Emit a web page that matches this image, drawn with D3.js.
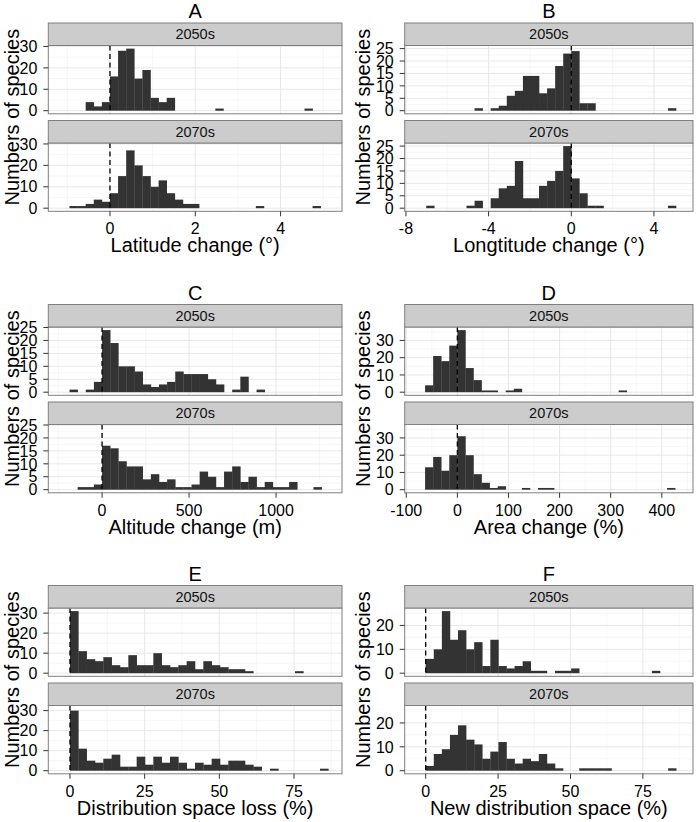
<!DOCTYPE html>
<html><head><meta charset="utf-8">
<script src="https://cdn.jsdelivr.net/npm/d3@7"></script>
<style>
body{margin:0;background:#fff}
svg{display:block}
text{font-family:"Liberation Sans",Arial,Helvetica,sans-serif}
</style>
</head><body>
<svg id="chart" width="700" height="822"></svg>
<script>
// ---------------- DATA ----------------
const facetLabels = ["2050s", "2070s"];
const panelLetters = ["A", "B", "C", "D", "E", "F"];
const xTitles = ["Latitude change (°)", "Longtitude change (°)", "Altitude change (m)",
                 "Area change (%)", "Distribution space loss (%)", "New distribution space (%)"];
const yTitle = "Numbers of species";

// histogram bin widths (bins are [k*w, (k+1)*w])
const binWidths = [0.19, 0.39, 46.74, 15.78, 2.79, 2.79];

// A: latitude change
const latStart = [-3, -5];
const lat2050 = [4,2,4,16,28,29,15,19,6,4,6,0,0,0,0,0,1,0,0,0,0,0,0,0,0,0,0,1];
const lat2070 = [1,1,2,4,3,7,15,27,20,15,10,13,7,4,2,2,0,0,0,0,0,0,0,1,0,0,0,0,0,0,1];
// B: longitude change
const lonStart = [-12, -18];
const lon2050 = [1,0,1,2,6,8,14,14,7,9,18,23,24,3,3,0,0,0,0,0,0,0,0,0,1];
const lon2070 = [1,0,0,0,0,1,3,0,4,8,9,19,4,4,9,11,15,25,12,6,1,1,0,0,0,0,0,0,0,0,1];
// C: altitude change
const altStart = [-4, -3];
const alt2050 = [1,0,1,4,24,19,10,10,8,3,2,3,4,8,7,7,7,5,3,0,1,6,0,1];
const alt2070 = [1,1,2,17,16,11,9,9,4,6,3,4,1,1,2,7,5,1,7,9,3,5,1,3,1,1,3,0,0,1];
// D: area change
const areaStart = [-4, -4];
const area2050 = [4,21,18,27,36,14,7,1,1,0,1,2,0,0,0,0,0,0,0,0,0,0,0,0,1];
const area2070 = [13,19,11,20,31,20,9,4,1,2,0,0,1,0,1,1,0,0,0,0,0,0,0,0,0,0,0,0,0,0,1];
// E: distribution space loss
const lossStart = [0, 0];
const loss2050 = [31,11,7,6,8,4,3,9,4,4,10,4,3,4,6,2,6,4,3,2,2,1,0,0,0,0,0,1];
const loss2070 = [30,11,5,4,6,8,2,2,7,3,7,4,7,4,1,4,3,6,3,5,5,3,2,0,1,0,0,0,0,0,1];
// F: new distribution space
const newStart = [0, 0];
const new2050 = [6,10,26,14,18,10,13,3,14,3,2,3,5,1,1,0,1,1,2,0,0,0,0,0,0,0,0,0,1];
const new2070 = [2,7,9,15,19,13,11,5,8,12,5,3,5,4,7,3,1,0,0,1,1,1,1,0,0,0,0,0,0,0,1];

// tick labels
const xTicks = [[0,2,4], [-8,-4,0,4], [0,500,1000], [-100,0,100,200,300,400], [0,25,50,75], [0,25,50,75]];
const yTicks = [[0,10,20,30], [0,5,10,15,20,25], [0,5,10,15,20,25], [0,10,20,30], [0,10,20,30], [0,10,20]];

// ---------------- LAYOUT ----------------
const xDomains = [[-1.446, 5.44], [-8.06, 5.89], [-309, 1379], [-103, 461], [-7.26, 91.06], [-7.25, 92.3]];
const starts = [latStart, lonStart, altStart, areaStart, lossStart, newStart];
const counts = [[lat2050, lat2070], [lon2050, lon2070], [alt2050, alt2070],
                [area2050, area2070], [loss2050, loss2070], [new2050, new2070]];

const rowTops = [23, 304.5, 585.5];
const colX = [[48.3, 342], [404.7, 693]];
const stripH = 22.5, plotH = 68.3, gapH = 6.7;
const yTitleX = [11.5, 363];

const svg = d3.select("#chart");

function minorOf(ticks, dom) {
  const step = ticks[1] - ticks[0];
  const out = [];
  for (let v = ticks[0] - step / 2; v <= ticks[ticks.length - 1] + step; v += step) {
    if (v > dom[0] && v < dom[1]) out.push(v);
  }
  return out;
}

panelLetters.forEach((letter, p) => {
  const col = p % 2, row = Math.floor(p / 2);
  const [x0, x1] = colX[col];
  const T = rowTops[row];
  const g = svg.append("g");
  const x = d3.scaleLinear().domain(xDomains[p]).range([x0, x1]);
  const bw = binWidths[p];
  const maxC = d3.max(counts[p].flat());
  const xMinor = minorOf(xTicks[p], xDomains[p]);

  facetLabels.forEach((lab, f) => {
    const sTop = T + f * (stripH + plotH + gapH);
    const pTop = sTop + stripH, pBot = pTop + plotH;
    const yDom = [-0.05 * maxC, 1.05 * maxC];
    const y = d3.scaleLinear().domain(yDom).range([pBot, pTop]);
    const yMinor = minorOf(yTicks[p], yDom);

    g.append("rect").attr("x", x0).attr("y", pTop).attr("width", x1 - x0).attr("height", plotH).attr("fill", "#fff");
    // minor grid
    g.selectAll(null).data(xMinor).enter().append("line")
      .attr("x1", d => x(d)).attr("x2", d => x(d)).attr("y1", pTop).attr("y2", pBot)
      .attr("stroke", "#F3F3F3").attr("stroke-width", 0.7);
    g.selectAll(null).data(yMinor).enter().append("line")
      .attr("x1", x0).attr("x2", x1).attr("y1", d => y(d)).attr("y2", d => y(d))
      .attr("stroke", "#F3F3F3").attr("stroke-width", 0.7);
    // major grid
    g.selectAll(null).data(xTicks[p]).enter().append("line")
      .attr("x1", d => x(d)).attr("x2", d => x(d)).attr("y1", pTop).attr("y2", pBot)
      .attr("stroke", "#E5E5E5").attr("stroke-width", 0.9);
    g.selectAll(null).data(yTicks[p]).enter().append("line")
      .attr("x1", x0).attr("x2", x1).attr("y1", d => y(d)).attr("y2", d => y(d))
      .attr("stroke", "#E5E5E5").attr("stroke-width", 0.9);

    // bars
    const s0 = starts[p][f];
    const bars = counts[p][f].map((c, i) => ({k: s0 + i, c})).filter(d => d.c > 0);
    g.selectAll(null).data(bars).enter().append("rect")
      .attr("x", d => x(d.k * bw))
      .attr("width", d => x((d.k + 1) * bw) - x(d.k * bw) + 0.3)
      .attr("y", d => y(d.c))
      .attr("height", d => y(0) - y(d.c))
      .attr("fill", "#333333");

    // dashed zero line
    g.append("line").attr("x1", x(0)).attr("x2", x(0)).attr("y1", pTop).attr("y2", pBot)
      .attr("stroke", "#000").attr("stroke-width", 1.3).attr("stroke-dasharray", "5,3.5");

    // border
    g.append("rect").attr("x", x0).attr("y", pTop).attr("width", x1 - x0).attr("height", plotH)
      .attr("fill", "none").attr("stroke", "#7F7F7F").attr("stroke-width", 1);
    // strip
    g.append("rect").attr("x", x0).attr("y", sTop).attr("width", x1 - x0).attr("height", stripH)
      .attr("fill", "#CCCCCC").attr("stroke", "#7F7F7F").attr("stroke-width", 1);
    g.append("text").attr("x", (x0 + x1) / 2).attr("y", sTop + stripH / 2 + 5)
      .attr("text-anchor", "middle").attr("font-size", 14.5).attr("fill", "#111").text(lab);

    // y axis
    g.selectAll(null).data(yTicks[p]).enter().append("line")
      .attr("x1", x0 - 5).attr("x2", x0).attr("y1", d => y(d)).attr("y2", d => y(d))
      .attr("stroke", "#333").attr("stroke-width", 1);
    g.selectAll(null).data(yTicks[p]).enter().append("text")
      .attr("x", x0 - 11).attr("y", d => y(d) + 5.7).attr("text-anchor", "end")
      .attr("font-size", 16).attr("fill", "#000").text(d => d);

    if (f === 1) {
      g.selectAll(null).data(xTicks[p]).enter().append("line")
        .attr("x1", d => x(d)).attr("x2", d => x(d)).attr("y1", pBot).attr("y2", pBot + 5)
        .attr("stroke", "#333").attr("stroke-width", 1);
      g.selectAll(null).data(xTicks[p]).enter().append("text")
        .attr("x", d => x(d)).attr("y", pBot + 23).attr("text-anchor", "middle")
        .attr("font-size", 16).attr("fill", "#000").text(d => d);
      g.append("text").attr("x", (x0 + x1) / 2).attr("y", pBot + 41)
        .attr("text-anchor", "middle").attr("font-size", 20).attr("fill", "#000").text(xTitles[p]);
    }
  });

  const bottom = T + 2 * (stripH + plotH) + gapH;
  g.append("text").attr("transform", `translate(${yTitleX[col]},${(T + bottom) / 2}) rotate(-90)`)
    .attr("text-anchor", "middle").attr("dy", "0.35em").attr("font-size", 20).attr("fill", "#000").text(yTitle);
  g.append("text").attr("x", (x0 + x1) / 2).attr("y", T - 5)
    .attr("text-anchor", "middle").attr("font-size", 20).attr("fill", "#000").text(letter);
});
</script>
</body></html>
